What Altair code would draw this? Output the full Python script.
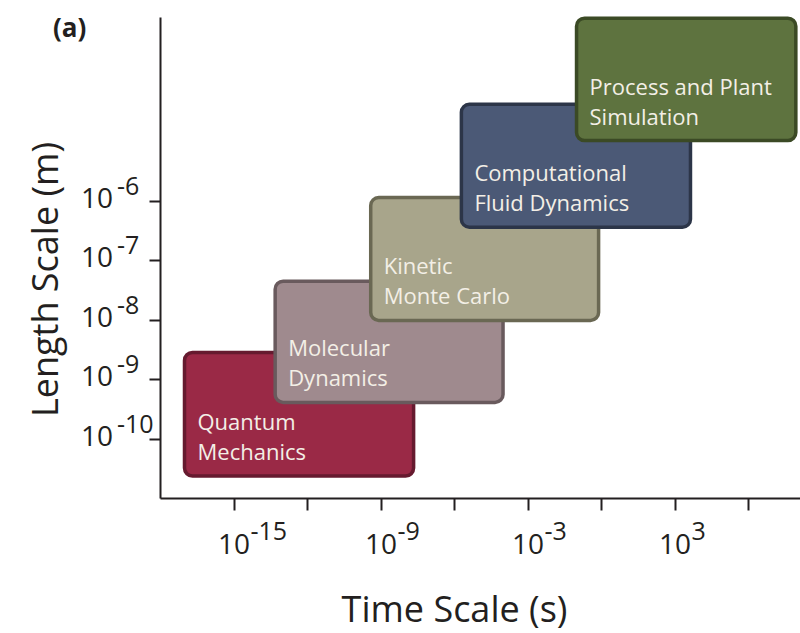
import altair as alt
import pandas as pd

# ---- data ----
methods = ["Quantum\nMechanics", "Molecular\nDynamics", "Kinetic\nMonte Carlo",
           "Computational\nFluid Dynamics", "Process and Plant\nSimulation"]
# time scale, log10(s)
t_start = [-17.0, -13.3, -9.4, -5.7, -1.0]
t_end = [-7.65, -4.0, -0.1, 3.65, 7.95]
# length scale, log10(m)
l_low = [-10.63, -9.39, -8.01, -6.44, -4.98]
l_high = [-8.55, -7.35, -5.94, -4.37, -2.92]
fills = ["#9a2946", "#9f8a8e", "#a8a58b", "#4b5976", "#5e733f"]
strokes = ["#661a2f", "#695a5d", "#6a6853", "#2c3548", "#3b4a25"]

x_tick_exps = [-15, -12, -9, -6, -3, 0, 3, 6]
x_label_exps = [-15, -9, -3, 3]
y_tick_exps = [-10, -9, -8, -7, -6]

INK = "#231f20"
FONT = "Open Sans"

df = pd.DataFrame({
    "name": methods, "t0": t_start, "t1": t_end, "l0": l_low, "l1": l_high,
    "fill": fills, "stroke": strokes, "order": list(range(len(methods))),
})

xscale = alt.Scale(domain=[-18, 8.12], nice=False, zero=False)
yscale = alt.Scale(domain=[-11.0, -2.9], nice=False, zero=False)

label_list = "[" + ",".join(str(v) for v in x_label_exps) + "]"

xaxis = alt.Axis(
    values=x_tick_exps,
    labelExpr=f"indexof({label_list}, datum.value) >= 0 ? '10' : ''",
    grid=False, tickSize=12, tickWidth=2, tickColor=INK,
    domainColor=INK, domainWidth=2,
    labelFont=FONT, labelFontSize=28, labelColor=INK,
    labelBaseline="alphabetic", labelPadding=43, labelAlign="center",
    labelOverlap=False, labelFlush=False,
    title="Time Scale (s)", titleFont=FONT, titleFontSize=36,
    titleFontWeight="normal", titleColor=INK,
    titleX=294, titleY=123, titleBaseline="alphabetic", titleAlign="center",
)
yaxis = alt.Axis(
    values=y_tick_exps, labels=False,
    grid=False, tickSize=11, tickWidth=2, tickColor=INK,
    domainColor=INK, domainWidth=2,
    title="Length Scale (m)", titleFont=FONT, titleFontSize=36,
    titleFontWeight="normal", titleColor=INK, titleAngle=270,
    titleX=-103, titleY=262, titleBaseline="alphabetic", titleAlign="center",
)

boxes = alt.Chart(df).mark_rect(cornerRadius=8, strokeWidth=3.5).encode(
    x=alt.X("t0:Q", scale=xscale, axis=xaxis),
    x2="t1:Q",
    y=alt.Y("l0:Q", scale=yscale, axis=yaxis),
    y2="l1:Q",
    fill=alt.Fill("fill:N", scale=None),
    stroke=alt.Stroke("stroke:N", scale=None),
    order=alt.Order("order:Q"),
)

box_text = alt.Chart(df).mark_text(
    align="left", baseline="alphabetic", dx=13, dy=-46, lineHeight=30,
    lineBreak="\n", fontSize=22, font=FONT, color="#f3efe6",
).encode(
    x=alt.X("t0:Q", scale=xscale, axis=xaxis),
    y=alt.Y("l0:Q", scale=yscale, axis=yaxis),
    text="name:N",
)

xexp_df = pd.DataFrame({"e": x_label_exps, "s": [str(v) for v in x_label_exps]})
x_exp = alt.Chart(xexp_df).mark_text(
    align="left", baseline="alphabetic", dx=17, dy=42, fontSize=25,
    font=FONT, color=INK,
).encode(
    x=alt.X("e:Q", scale=xscale, axis=xaxis),
    y=alt.value(481),
    text="s:N",
)

ylab_df = pd.DataFrame({"e": y_tick_exps, "s": [str(v) for v in y_tick_exps],
                        "b": ["10"] * len(y_tick_exps)})
y_base = alt.Chart(ylab_df).mark_text(
    align="right", baseline="alphabetic", dx=-47, dy=7, fontSize=28,
    font=FONT, color=INK,
).encode(
    x=alt.value(0),
    y=alt.Y("e:Q", scale=yscale, axis=yaxis),
    text="b:N",
)
y_exp = alt.Chart(ylab_df).mark_text(
    align="left", baseline="alphabetic", dx=-43, dy=-6, fontSize=25,
    font=FONT, color=INK,
).encode(
    x=alt.value(0),
    y=alt.Y("e:Q", scale=yscale, axis=yaxis),
    text="s:N",
)

panel = alt.Chart(pd.DataFrame({"t": ["(a)"]})).mark_text(
    align="left", baseline="alphabetic", fontSize=26, fontWeight="bold",
    font=FONT, color=INK,
).encode(x=alt.value(-107), y=alt.value(20), text="t:N")

chart = alt.layer(boxes, box_text, x_exp, y_base, y_exp, panel).properties(
    width=640, height=481,
    padding={"left": 160, "top": 17, "right": 0, "bottom": 135},
    autosize=alt.AutoSizeParams(type="none"),
    background="white",
).configure_view(strokeWidth=0)

chart.save("out.html", embed_options={"renderer": "svg", "actions": False})
